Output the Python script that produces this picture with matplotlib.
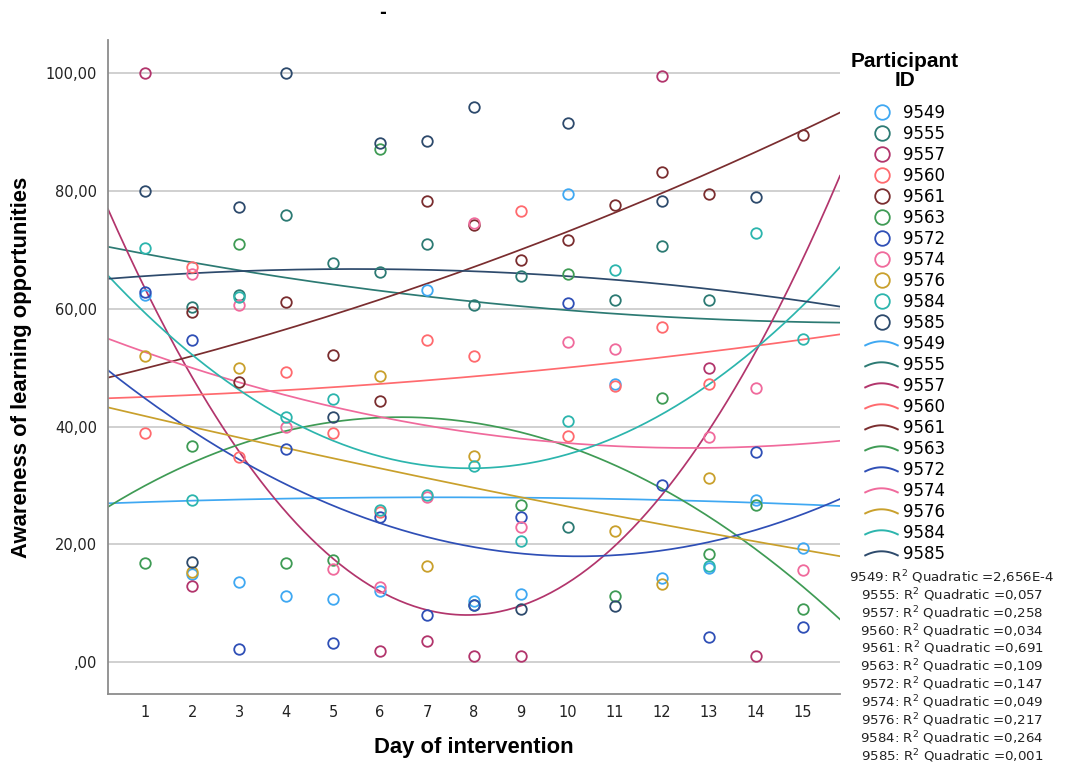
import numpy as np
import matplotlib

matplotlib.use("Agg")

import matplotlib.pyplot as plt
from matplotlib.legend_handler import HandlerBase
from matplotlib.lines import Line2D

nan = np.nan

days = list(range(1, 16))

participant_ids = ["9549", "9555", "9557", "9560", "9561", "9563",
                   "9572", "9574", "9576", "9584", "9585"]

# daily scores per participant (nan = no entry that day)
p9549 = [62.3, 15.0, 13.6, 11.2, 10.7, 12.0, 63.2, 10.4, 11.6, 79.5, 47.2, 14.3, 16.0, 27.6, 19.3]
p9555 = [nan, 60.3, 62.3, 75.9, 67.8, 66.3, 70.9, 60.6, 65.6, 22.9, 61.5, 70.6, 61.5, nan, nan]
p9557 = [100.0, 12.9, nan, nan, nan, 1.9, 3.6, 1.0, 1.0, nan, nan, 99.5, 49.9, 1.0, nan]
p9560 = [38.9, 67.0, 34.9, 49.3, 38.9, 25.5, 54.6, 51.9, 76.6, 38.4, 46.9, 56.9, 47.2, nan, nan]
p9561 = [nan, 59.5, 47.6, 61.2, 52.2, 44.3, 78.2, 74.2, 68.3, 71.6, 77.6, 83.2, 79.5, nan, 89.5]
p9563 = [16.9, 36.7, 71.0, 16.9, 17.3, 87.1, nan, 9.7, 26.6, 65.9, 11.2, 44.9, 18.3, 26.6, 9.0]
p9572 = [62.8, 54.6, 2.3, 36.2, 3.3, 24.6, 8.0, 9.7, 24.6, 60.9, nan, 30.0, 4.3, 35.6, 6.0]
p9574 = [nan, 65.9, 60.6, 40.0, 15.9, 12.8, 28.0, 74.6, 22.9, 54.3, 53.2, nan, 38.2, 46.6, 15.6]
p9576 = [51.9, 15.3, 49.9, nan, nan, 48.5, 16.3, 35.0, nan, nan, 22.3, 13.3, 31.2, nan, nan]
p9584 = [70.3, 27.6, 62.0, 41.6, 44.6, 25.9, 28.3, 33.3, 20.6, 40.9, 66.6, nan, 16.3, 72.9, 54.9]
p9585 = [80.0, 17.0, 77.2, 100.0, 41.6, 88.1, 88.5, 94.2, 9.0, 91.5, 9.6, 78.2, nan, 78.9, nan]

r2_labels = ["2,656E-4", "0,057", "0,258", "0,034", "0,691", "0,109",
             "0,147", "0,049", "0,217", "0,264", "0,001"]

y_ticks = [0, 20, 40, 60, 80, 100]
y_tick_labels = [",00", "20,00", "40,00", "60,00", "80,00", "100,00"]

colors = ["#3fa8f2", "#2c7a73", "#b2356c", "#ff6a6e", "#7a2d2f", "#3f9b55",
          "#2f4fb6", "#f06a9c", "#c9a02c", "#2cb5ad", "#2d4a6c"]

series = [p9549, p9555, p9557, p9560, p9561, p9563,
          p9572, p9574, p9576, p9584, p9585]


class ArcHandler(HandlerBase):
    """Small curved stroke used as the legend key for fit lines."""

    def create_artists(self, legend, orig_handle, xdescent, ydescent,
                       width, height, fontsize, trans):
        t = np.linspace(-1.0, 1.0, 25)
        xs = -xdescent + width * (t + 1.0) / 2.0
        ys = -ydescent + height * (0.3 + 0.35 * (1.0 - t ** 2))
        arc = Line2D(xs, ys, color=orig_handle.get_color(),
                     linewidth=orig_handle.get_linewidth())
        arc.set_transform(trans)
        return [arc]


fig = plt.figure(figsize=(10.66, 7.67), dpi=100)
fig.patch.set_facecolor("white")
ax = fig.add_axes([108 / 1066, 1 - 694 / 767, (840 - 108) / 1066, (694 - 40) / 767])

x_lo, x_hi = 0.21, 15.79
ax.set_xlim(x_lo, x_hi)
ax.set_ylim(-5.4, 105.6)

for val in y_ticks:
    ax.axhline(val, color="#cdcdcd", linewidth=1.3, zorder=0)

x_days = np.array(days, dtype=float)
x_fit = np.linspace(x_lo, x_hi, 300)

marker_handles = []
line_handles = []
for pid, vals, col in zip(participant_ids, series, colors):
    y = np.array(vals, dtype=float)
    ok = ~np.isnan(y)
    ax.plot(x_days[ok], y[ok], linestyle="none", marker="o", markersize=7.6,
            markerfacecolor="none", markeredgecolor=col, markeredgewidth=1.3, zorder=3)
    # quadratic fit per participant
    coef = np.polyfit(x_days[ok], y[ok], 2)
    ax.plot(x_fit, np.polyval(coef, x_fit), color=col, linewidth=1.25, zorder=2)
    marker_handles.append(Line2D([], [], linestyle="none", marker="o", markersize=10.5,
                                 markerfacecolor="none", markeredgecolor=col,
                                 markeredgewidth=1.3))
    line_handles.append(Line2D([], [], color=col, linewidth=1.4))

ax.set_xticks(days)
ax.set_xticklabels([str(d) for d in days])
ax.set_yticks(y_ticks)
ax.set_yticklabels(y_tick_labels)
ax.tick_params(axis="both", length=0, labelsize=10.5, colors="#222222")
ax.tick_params(axis="x", pad=8)
ax.tick_params(axis="y", pad=8)

for side in ("top", "right"):
    ax.spines[side].set_visible(False)
for side in ("left", "bottom"):
    ax.spines[side].set_color("#8c8c8c")
    ax.spines[side].set_linewidth(1.3)

ax.set_xlabel("Day of intervention", fontsize=15.8, fontweight="bold",
              family="Liberation Sans", labelpad=12)
ax.set_ylabel("Awareness of learning opportunities", fontsize=15.8, fontweight="bold",
              family="Liberation Sans", labelpad=10)

handler_map = {h: ArcHandler() for h in line_handles}
leg = fig.legend(
    marker_handles + line_handles,
    participant_ids + participant_ids,
    loc="upper left",
    bbox_to_anchor=(851 / 1066, 1 - 52 / 767),
    frameon=False,
    fontsize=12,
    labelspacing=0.18,
    handlelength=1.95,
    handletextpad=0.3,
    borderpad=0.0,
    borderaxespad=0.0,
    alignment="center",
    title="Participant\nID",
    title_fontproperties={"family": "Liberation Sans", "weight": "bold", "size": 15},
    handler_map=handler_map,
)
leg.get_title().set_multialignment("center")
leg.get_title().set_linespacing(1.0)
leg._legend_box.sep = 10

for i, (pid, r2) in enumerate(zip(participant_ids, r2_labels)):
    fig.text(952 / 1066, 1 - (577 + 17.9 * i) / 767,
             f"{pid}: R$^2$ Quadratic ={r2}",
             ha="center", va="center", fontsize=9.6, color="#222222")

fig.text(383 / 1066, 1 - 13 / 767, "-", ha="center", va="center",
         fontsize=12, fontweight="bold")

fig.savefig("out.png", dpi=100, facecolor="white")
plt.close(fig)
